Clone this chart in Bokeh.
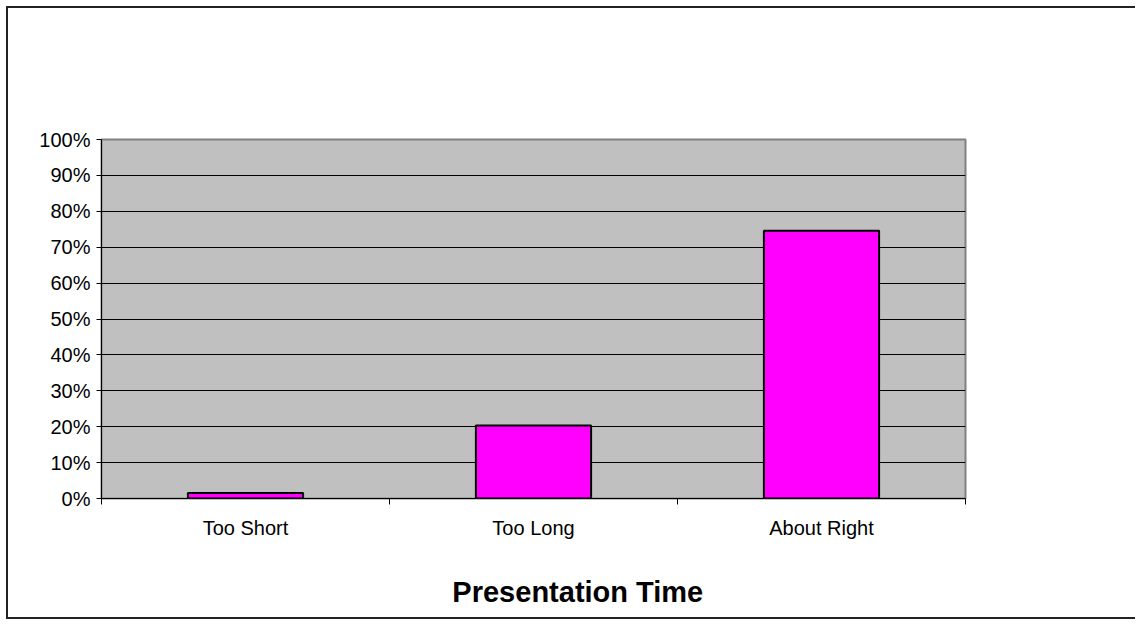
from bokeh.plotting import figure
from bokeh.models import Range1d, FixedTicker, NumeralTickFormatter, ColumnDataSource
from bokeh.embed import file_html
from bokeh.resources import INLINE

# Data
categories = ["Too Short", "Too Long", "About Right"]
shares = [0.015, 0.203, 0.746]
y_ticks = [0, 0.1, 0.2, 0.3, 0.4, 0.5, 0.6, 0.7, 0.8, 0.9, 1.0]
x_title = "Presentation Time"

W, H = 1135, 619
FONT = "Liberation Sans"

xs = [i + 0.5 for i in range(len(categories))]
src = ColumnDataSource(dict(x=xs, top=shares, cat=categories))

p = figure(width=W, height=H, output_backend="svg", toolbar_location=None,
           x_range=Range1d(0, len(categories)), y_range=Range1d(0, 1))
p.min_border_left = 101
p.min_border_top = 139
p.min_border_right = 170
p.min_border_bottom = 121

p.background_fill_color = "#C0C0C0"
p.border_fill_color = None
p.outline_line_color = "#808080"
p.outline_line_width = 2
p.styles = {
    "background-color": "white",
    "box-shadow": "inset 6px 6px 0 0 white, inset 8px 8px 0 0 #222222, inset 0 -2px 0 0 #222222",
}

p.vbar(x="x", top="top", bottom=0, width=0.4, source=src,
       fill_color="#FF00FF", line_color="black", line_width=2)

# Y axis
p.yaxis.ticker = FixedTicker(ticks=y_ticks, minor_ticks=[])
p.yaxis.formatter = NumeralTickFormatter(format="0%")
p.yaxis.major_tick_out = 5
p.yaxis.major_tick_in = 0
p.yaxis.minor_tick_out = 0
p.yaxis.minor_tick_in = 0
p.yaxis.axis_line_color = "black"
p.yaxis.major_tick_line_color = "black"
p.yaxis.major_label_text_font = FONT
p.yaxis.major_label_text_font_size = "20px"
p.yaxis.major_label_text_color = "black"
p.yaxis.major_label_standoff = 6

# X axis
p.xaxis.ticker = FixedTicker(ticks=xs, minor_ticks=list(range(len(categories) + 1)))
p.xaxis.major_label_overrides = {x: c for x, c in zip(xs, categories)}
p.xaxis.major_tick_out = 0
p.xaxis.major_tick_in = 0
p.xaxis.minor_tick_out = 6
p.xaxis.minor_tick_in = 0
p.xaxis.minor_tick_line_color = "black"
p.xaxis.axis_line_color = "black"
p.xaxis.major_label_text_font = FONT
p.xaxis.major_label_text_font_size = "20px"
p.xaxis.major_label_text_color = "black"
p.xaxis.major_label_standoff = 12
# the original centres the title on the whole chart area, right of the plot centre;
# leading non-breaking spaces shift the centred axis label accordingly
p.xaxis.axis_label = "\u00a0" * 11 + x_title
p.xaxis.axis_label_text_font = FONT
p.xaxis.axis_label_text_font_size = "29px"
p.xaxis.axis_label_text_font_style = "bold"
p.xaxis.axis_label_text_color = "black"
p.xaxis.axis_label_standoff = 34

# Grid
p.xgrid.visible = False
p.ygrid.ticker = FixedTicker(ticks=y_ticks[1:-1], minor_ticks=[])
p.ygrid.grid_line_color = "black"
p.ygrid.grid_line_width = 1

open("out.html", "w").write(file_html(p, INLINE))
